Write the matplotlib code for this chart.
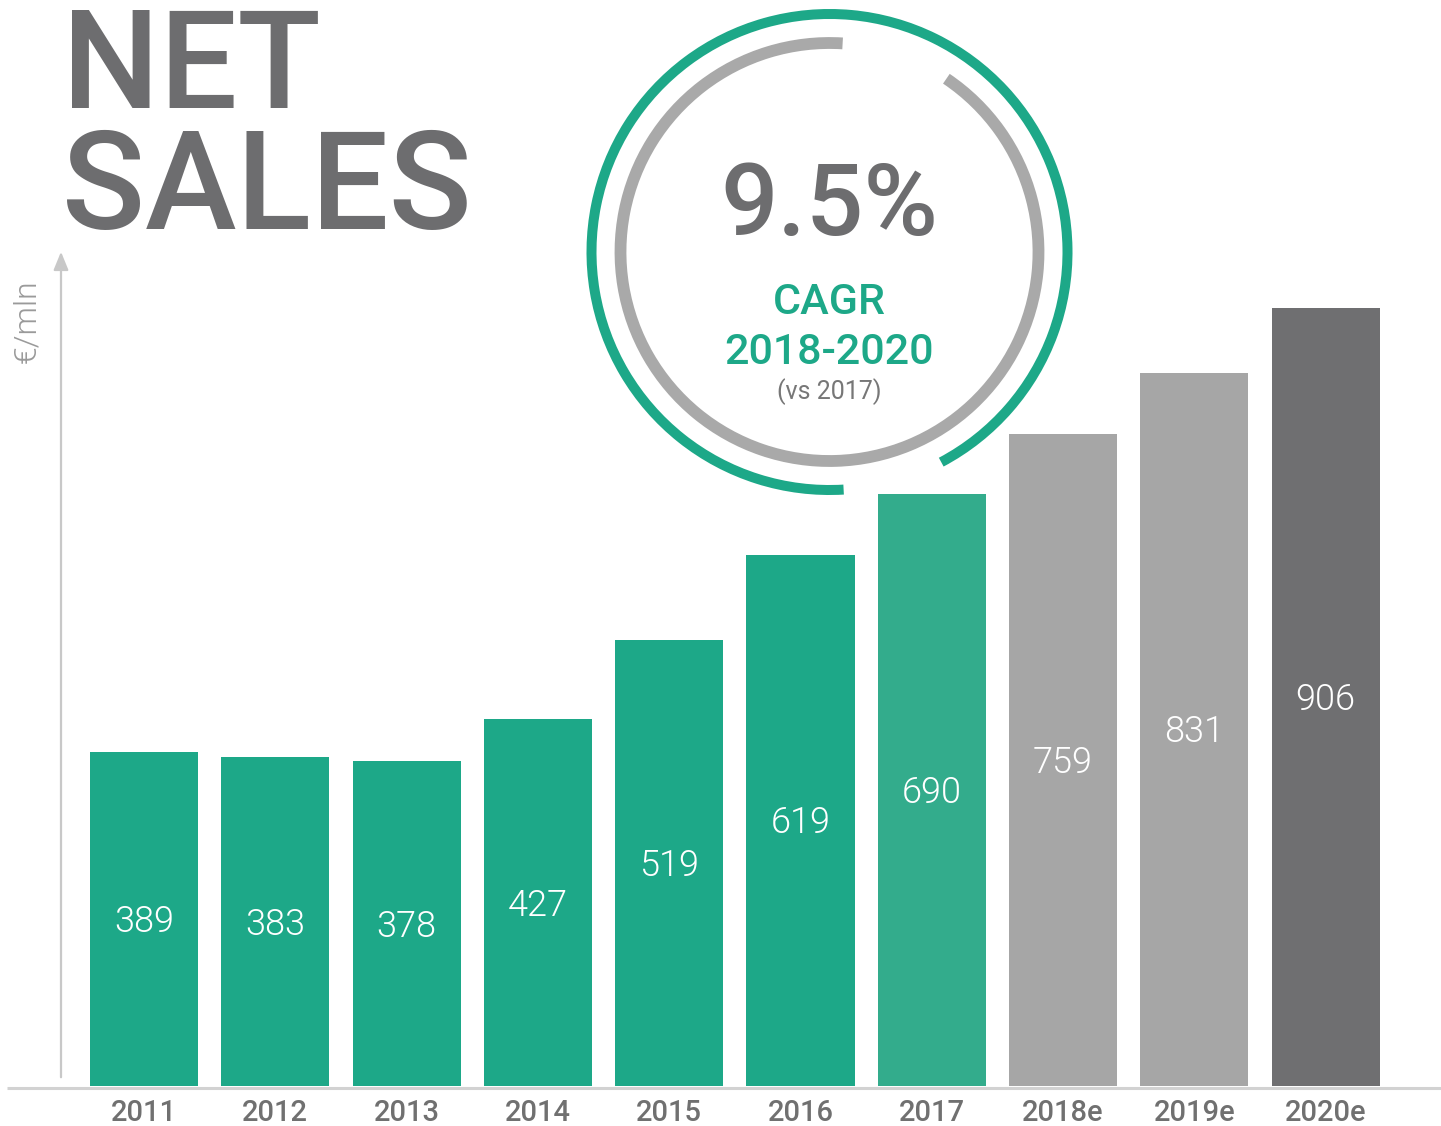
import matplotlib.pyplot as plt
from matplotlib.patches import Arc

years = ["2011", "2012", "2013", "2014", "2015", "2016", "2017", "2018e", "2019e", "2020e"]
sales = [389, 383, 378, 427, 519, 619, 690, 759, 831, 906]
bar_colors = ["#1da888"] * 6 + ["#33ac8c", "#a6a6a6", "#a6a6a6", "#6f6f71"]

GREEN = "#1da888"
DARK = "#6d6d6f"
W, H = 1441, 1126

plt.rcParams["font.family"] = ["Roboto", "DejaVu Sans"]

fig = plt.figure(figsize=(W / 100, H / 100), dpi=100)

# bar axes: index i sits at pixel 144 + 131.3*i, value 0 at pixel row 1086
ax = fig.add_axes([0, 0, 1, 1])
ax.set_xlim(-144 / 131.3, (W - 144) / 131.3)
ax.set_ylim(-(H - 1086) / 0.8586, 1086 / 0.8586)
ax.axis("off")

x = range(len(years))
bars = ax.bar(x, sales, width=0.823, color=bar_colors, zorder=2)
for i, v in enumerate(sales):
    ax.text(i, v / 2 - 3.5, str(v), ha="center", va="center", color="white",
            fontsize=26, fontweight=300, zorder=3)
    ax.text(i, -32, years[i], ha="center", va="center", color="#707070",
            fontsize=21, fontweight="medium")

# overlay in pixel units for decorations
ov = fig.add_axes([0, 0, 1, 1])
ov.set_xlim(0, W)
ov.set_ylim(H, 0)
ov.axis("off")
ov.patch.set_alpha(0)

ov.plot([7, W], [1088, 1088], color="#d2d2d2", lw=2.2, solid_capstyle="butt")
ov.annotate("", xy=(61, 249), xytext=(61, 1080),
            arrowprops=dict(arrowstyle="-|>,head_length=1.1,head_width=0.45",
                            color="#c8c8c8", lw=1.6))
ov.text(27, 321, "€/mln", rotation=90, ha="center", va="center",
        color="#9a9a9a", fontsize=23, fontweight=300)

ov.text(62, 71, "NET", ha="left", va="center", color=DARK, fontsize=99,
        fontweight="medium")
ov.text(62, 191, "SALES", ha="left", va="center", color=DARK, fontsize=99,
        fontweight="medium")

cx, cy = 829.5, 252
# y axis is inverted, so angles run clockwise on screen
ov.add_patch(Arc((cx, cy), 2 * 238, 2 * 238, theta1=86.6, theta2=422,
                 color=GREEN, lw=7.2, capstyle="butt"))
ov.add_patch(Arc((cx, cy), 2 * 209, 2 * 209, theta1=-56, theta2=273.6,
                 color="#a9a9a9", lw=8.5, capstyle="butt"))

ov.text(cx, 207, "9.5%", ha="center", va="center", color=DARK, fontsize=73,
        fontweight="medium")
ov.text(cx, 303, "CAGR", ha="center", va="center", color=GREEN, fontsize=31,
        fontweight="medium")
ov.text(cx, 353, "2018-2020", ha="center", va="center", color=GREEN, fontsize=31,
        fontweight="medium")
ov.text(cx, 392, "(vs 2017)", ha="center", va="center", color="#777777",
        fontsize=18)

fig.savefig("out.png", dpi=100)
